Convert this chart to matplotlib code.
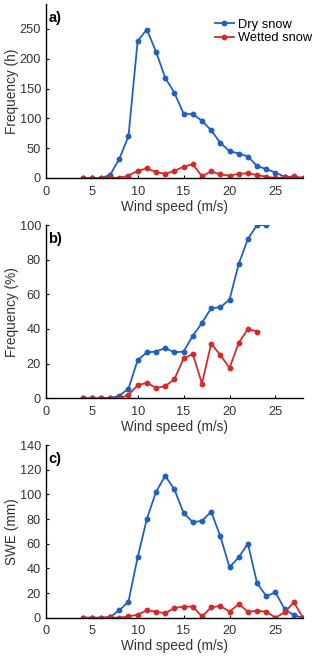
import matplotlib
matplotlib.use("Agg")
import matplotlib.pyplot as plt

plt.rcParams['font.family'] = ['Liberation Sans', 'DejaVu Sans']

wind_dry_a = list(range(4, 28))
dry_a = [0, 0, 0, 5, 32, 70, 230, 249, 212, 168, 143, 108, 107, 96, 80, 59, 45, 41, 36, 20, 15, 9, 2, 0]
wind_wet_a = list(range(4, 29))
wet_a = [0, 0, 0, 1, 0, 4, 12, 16, 10, 7, 12, 19, 23, 3, 11, 6, 4, 7, 8, 5, 2, 0, 1, 3, 0]

wind_dry_b = list(range(4, 25))
dry_b = [0, 0, 0, 0, 1.5, 5.5, 22, 26.5, 27, 29, 26.5, 27, 36, 43.5, 52, 52.5, 57, 77.5, 92, 100, 100]
wind_wet_b = list(range(4, 24))
wet_b = [0, 0, 0, 0.3, 0, 2, 7.5, 9, 6, 7, 11, 23, 25.5, 8.5, 31.5, 25, 17.5, 32, 40, 38.5]

wind_c = list(range(4, 29))
dry_c = [0, 0, 0, 0.5, 6, 13, 49, 80, 102, 115, 104, 85, 77.5, 78.5, 86, 66, 41, 49, 60, 28, 17.5, 20.5, 7, 2, 0]
wet_c = [0, 0, 0, 0.3, 0, 1, 2.5, 6, 5, 3.5, 8, 9, 9, 1, 8.5, 9.5, 5, 11, 5, 5.5, 5, 0, 4.5, 12.5, 0]

xticks = [0, 5, 10, 15, 20, 25]
labels = ['Dry snow', 'Wetted snow']
BLUE = '#2060c0'
RED = '#d42a2a'
TXT = '#333333'

fig = plt.figure(figsize=(3.2, 6.58), dpi=100)
left, width = 0.143, 0.804
axes_pos = [
    (0.7295, 0.994 - 0.7295),
    (0.3947, 0.658 - 0.3947),
    (0.0612, 0.3237 - 0.0612),
]
panels = [
    (wind_dry_a, dry_a, wind_wet_a, wet_a, 'Frequency (h)', (0, 292), [0, 50, 100, 150, 200, 250], 'a)'),
    (wind_dry_b, dry_b, wind_wet_b, wet_b, 'Frequency (%)', (0, 100), [0, 20, 40, 60, 80, 100], 'b)'),
    (wind_c, dry_c, wind_c, wet_c, 'SWE (mm)', (0, 140), [0, 20, 40, 60, 80, 100, 120, 140], 'c)'),
]
kw = dict(marker='o', markersize=3.2, linewidth=1.3)
for (b, h), (xd, yd, xw, yw, ylab, ylim, yt, tag) in zip(axes_pos, panels):
    ax = fig.add_axes([left, b, width, h])
    ax.plot(xd, yd, color=BLUE, label=labels[0], **kw)
    ax.plot(xw, yw, color=RED, label=labels[1], **kw)
    ax.set_xlim(0, 28)
    ax.set_ylim(*ylim)
    ax.set_xticks(xticks)
    ax.set_yticks(yt)
    ax.spines['top'].set_visible(False)
    ax.spines['right'].set_visible(False)
    for s in ('left', 'bottom'):
        ax.spines[s].set_linewidth(1.0)
    ax.tick_params(direction='in', labelsize=9.2, length=2.5, width=0.8, labelcolor=TXT)
    ax.tick_params(axis='x', pad=5.5)
    ax.tick_params(axis='y', pad=3.5)
    ax.set_xlabel('Wind speed (m/s)', fontsize=9.8, labelpad=1.5, color=TXT)
    ax.set_ylabel(ylab, fontsize=9.8, labelpad=0.5, color=TXT)
    ax.text(0.01, 0.96, tag, transform=ax.transAxes, fontsize=10.5, fontweight='bold', va='top', ha='left')
    if tag == 'a)':
        ax.legend(loc='upper right', frameon=False, fontsize=9.3, handlelength=1.5,
                  handletextpad=0.3, labelspacing=0.1, borderaxespad=0.2,
                  bbox_to_anchor=(1.065, 0.96))

fig.savefig('out.png', dpi=100)
